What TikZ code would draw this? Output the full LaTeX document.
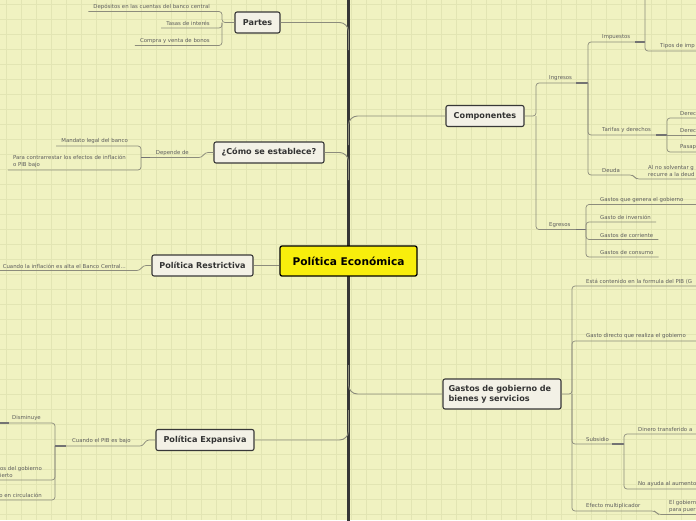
\documentclass[tikz,border=0pt]{standalone}
\usepackage{fontspec}
\setmainfont{DejaVu Sans}
\usetikzlibrary{positioning}
\definecolor{paper}{HTML}{F0F2C1}
\definecolor{gridc}{HTML}{E2E5B3}
\definecolor{spine}{HTML}{363636}
\definecolor{boxfill}{HTML}{F3F1E6}
\definecolor{boxline}{HTML}{383838}
\definecolor{rootfill}{HTML}{F8EE0C}
\definecolor{linkc}{HTML}{8C8C7C}
\definecolor{txtc}{HTML}{5E5E5E}

\begin{document}
\begin{tikzpicture}[x=1pt,y=-1pt,
  topic/.style={draw=boxline, fill=boxfill, line width=1.1pt, rounded corners=2pt,
    font=\fontsize{8.1}{10}\selectfont\bfseries, text=black!80, minimum height=21pt, inner sep=0pt},
  root/.style={draw=black, fill=rootfill, line width=1.3pt, rounded corners=2pt,
    font=\fontsize{10.6}{12}\selectfont\bfseries, minimum height=30pt, minimum width=137pt},
  link/.style={draw=linkc, line width=0.9pt, rounded corners=9pt},
  leaf/.style={draw=linkc, line width=0.7pt, rounded corners=3pt},
  heavy/.style={draw=black!55, line width=1.3pt},
  lbl/.style={font=\fontsize{5.4}{6.8}\selectfont, text=txtc, inner xsep=5pt, inner ysep=2pt, align=left},
]
\useasboundingbox (0,0) rectangle (696,520);
% ---------------- paper ----------------
\fill[paper] (0,0) rectangle (696,520);
\foreach \gx in {0,15,...,690} \draw[gridc, line width=0.5pt] (\gx+6,0) -- (\gx+6,520);
\foreach \gy in {0,15,...,515} \draw[gridc, line width=0.5pt] (0,\gy+4) -- (696,\gy+4);
\draw[spine, line width=2.6pt] (348.5,-2) -- (348.5,522);

% ---------------- topics ----------------
\node[root] (root) at (348.5,261) {Política Económica};
\node[topic, minimum width=45pt] (partes) at (257.5,22.5) {Partes};
\node[topic, minimum width=110pt] (como) at (269,152.5) {¿Cómo se establece?};
\node[topic, minimum width=101pt] (restr) at (202.5,265.5) {Política Restrictiva};
\node[topic, minimum width=98pt] (expan) at (205,440) {Política Expansiva};
\node[topic, minimum width=78pt] (comp) at (485,116) {Componentes};
\node[topic, minimum width=118pt, minimum height=30pt, align=left, text width=107pt] (gastos) at (502,394) {Gastos de gobierno de\\bienes y servicios};

\draw[link] (partes.east) -- (348.5,22.5) -- (348.5,50);
\draw[link] (como.east) -- (348.5,152.5) -- (348.5,180);
\draw[link] (restr.east) -- (root.west |- restr.east);
\draw[link] (expan.east) -- (348.5,440) -- (348.5,410);
\draw[link] (comp.west) -- (348.5,116) -- (348.5,145);
\draw[link] (gastos.west) -- (348.5,394) -- (348.5,365);

% ---------------- left: Partes ----------------
\node[lbl, anchor=south east] (p1) at (215,11.5) {Depósitos en las cuentas del banco central};
\node[lbl, anchor=south east] (p2) at (215,28) {Tasas de interés};
\node[lbl, anchor=south east] (p3) at (215,45.5) {Compra y venta de bonos};
\draw[leaf] (partes.west) -- (222,22.5) -- (222,11.5) -- (p1.south west);
\draw[leaf] (222,22.5) -- (222,28) -- (p2.south west);
\draw[leaf] (222,22.5) -- (222,45.5) -- (p3.south west);

% ---------------- left: Como se establece ----------------
\node[lbl, anchor=south east] (dep) at (194,157.5) {Depende de};
\draw[leaf] (como.west) -- (205,152.5) -- (202,157.5) -- (dep.south west) -- (141,157.5);
\node[lbl, anchor=south east] (d1) at (133,146) {Mandato legal del banco};
\node[lbl, anchor=south east] (d2) at (131,170) {Para contrarrestar los efectos de inflación\\o PIB bajo};
\draw[leaf] (141,157.5) -- (141,146) -- (d1.south west);
\draw[leaf] (141,157.5) -- (141,170) -- (d2.south west);
\draw[heavy] (141,157.5) -- (150,157.5);

% ---------------- left: Restrictiva ----------------
\node[lbl, anchor=south east] (r1) at (131,270.5) {Cuando la inflación es alta el Banco Central...};
\draw[leaf] (restr.west) -- (143,265.5) -- (140,270.5) -- (r1.south west);

% ---------------- left: Expansiva ----------------
\node[lbl, anchor=south east] (e0) at (136,446) {Cuando el PIB es bajo};
\draw[leaf] (expan.west) -- (146,440) -- (143,446) -- (e0.south west) -- (55,446);
\node[lbl, anchor=south east] (e1) at (46,423) {Disminuye};
\node[lbl, anchor=south east] (e2) at (47,480) {os del gobierno\\ierto};
\node[lbl, anchor=south east] (e3) at (47,500) {o en circulación};
\draw[leaf] (55,446) -- (55,423) -- (e1.south west) -- (-5,423);
\draw[leaf] (55,446) -- (55,480) -- (e2.south west) -- (-5,480);
\draw[leaf] (55,446) -- (55,500) -- (e3.south west) -- (-5,500);
\draw[heavy] (55,446) -- (66,446);
\draw[heavy] (-5,423) -- (9,423);

% ---------------- right: Componentes ----------------
\node[lbl, anchor=south west] (ing) at (544,83) {Ingresos};
\node[lbl, anchor=south west] (egr) at (544,229.5) {Egresos};
\draw[leaf] (comp.east) -- (536,116) -- (536,83) -- (ing.south east) -- (588,83);
\draw[leaf] (536,116) -- (536,229.5) -- (egr.south east) -- (586,229.5);
\draw[heavy] (576,83) -- (588,83);
\draw[heavy] (576,229.5) -- (586,229.5);

% ingresos
\node[lbl, anchor=south west] (imp) at (597,42) {Impuestos};
\node[lbl, anchor=south west] (tar) at (597,135) {Tarifas y derechos};
\node[lbl, anchor=south west] (deu) at (597,175) {Deuda};
\node[lbl, anchor=south west] (deu1) at (643,179) {Al no solventar g\\recurre a la deud};
\draw[leaf] (588,83) -- (588,42) -- (imp.south east) -- (645,42);
\draw[leaf] (588,83) -- (588,135) -- (tar.south east) -- (667,135);
\draw[leaf] (588,83) -- (588,175) -- (deu.south east) -- (633,175) -- (636,179) -- (702,179);
\draw[heavy] (635,42) -- (645,42);
\draw[heavy] (656,135) -- (667,135);

% impuestos
\node[lbl, anchor=south west] (tip) at (655,51) {Tipos de imp};
\draw[leaf] (645,-5) -- (645,51) -- (tip.south west) -- (702,51);

% tarifas y derechos
\node[lbl, anchor=south west] (t1) at (675,118) {Derec};
\node[lbl, anchor=south west] (t2) at (675,135) {Derec};
\node[lbl, anchor=south west] (t3) at (675,152) {Pasap};
\draw[leaf] (667,135) -- (667,118) -- (702,118);
\draw[leaf] (667,135) -- (702,135);
\draw[leaf] (667,135) -- (667,152) -- (702,152);

% egresos
\node[lbl, anchor=south west] (g1) at (595,204.5) {Gastos que genera el gobierno};
\node[lbl, anchor=south west] (g2) at (595,222) {Gasto de inversión};
\node[lbl, anchor=south west] (g3) at (595,239.5) {Gastos de corriente};
\node[lbl, anchor=south west] (g4) at (595,257) {Gastos de consumo};
\draw[leaf] (586,229.5) -- (586,204.5) -- (702,204.5);
\draw[leaf] (586,229.5) -- (586,222) -- (g2.south east);
\draw[leaf] (586,229.5) -- (586,239.5) -- (g3.south east);
\draw[leaf] (586,229.5) -- (586,257) -- (g4.south east);

% ---------------- right: Gastos de gobierno ----------------
\node[lbl, anchor=south west] (s1) at (581,286) {Está contenido en la formula del PIB (G};
\node[lbl, anchor=south west] (s2) at (581,341) {Gasto directo que realiza el gobierno};
\node[lbl, anchor=south west] (s3) at (581,444) {Subsidio};
\node[lbl, anchor=south west] (s4) at (581,511) {Efecto multiplicador};
\node[lbl, anchor=south west] (s41) at (664,514.5) {El gobiern\\para puer};
\draw[leaf] (gastos.east) -- (572,394) -- (572,286) -- (702,286);
\draw[leaf] (572,394) -- (572,341) -- (702,341);
\draw[leaf] (572,394) -- (572,444) -- (s3.south east) -- (624,444);
\draw[leaf] (572,394) -- (572,511) -- (s4.south east) -- (655,511) -- (658,514.5) -- (702,514.5);
\draw[heavy] (612,444) -- (624,444);

% subsidio
\node[lbl, anchor=south west] (u1) at (633,434) {Dinero transferido a};
\node[lbl, anchor=south west] (u2) at (633,489) {No ayuda al aumento};
\draw[leaf] (624,444) -- (624,434) -- (702,434);
\draw[leaf] (624,444) -- (624,489) -- (702,489);
\end{tikzpicture}
\end{document}
